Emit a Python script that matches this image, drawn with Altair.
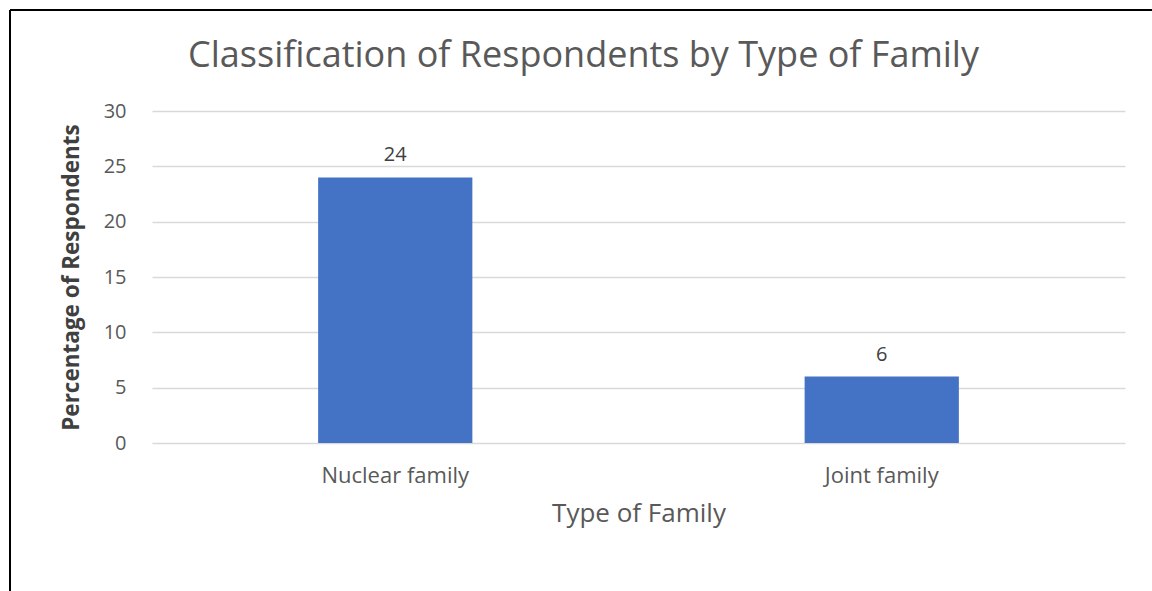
import altair as alt
import pandas as pd

# Survey result: share of respondents by family type
family_types = ["Nuclear family", "Joint family"]
percentages = [24, 6]
y_ticks = [0, 5, 10, 15, 20, 25, 30]

df = pd.DataFrame({"family": family_types, "pct": percentages})

FONT = "Open Sans"
GREY = "#595959"

base = alt.Chart(df).encode(
    x=alt.X(
        "family:N",
        sort=family_types,
        title="Type of Family",
        scale=alt.Scale(paddingInner=0.683, paddingOuter=0.3415),
        axis=alt.Axis(
            labelAngle=0,
            labelFontSize=22,
            labelColor=GREY,
            labelFont=FONT,
            labelPadding=22,
            ticks=False,
            domain=False,
            titleFontSize=26,
            titleColor=GREY,
            titleFont=FONT,
            titleFontWeight="normal",
            titlePadding=14,
        ),
    )
)

bars = base.mark_bar(color="#4472C4").encode(
    y=alt.Y(
        "pct:Q",
        title="Percentage of Respondents",
        scale=alt.Scale(domain=[0, 30], nice=False),
        axis=alt.Axis(
            values=y_ticks,
            labelFontSize=20,
            labelColor=GREY,
            labelFont=FONT,
            labelPadding=26,
            ticks=False,
            domain=False,
            grid=True,
            gridColor="#d9d9d9",
            gridWidth=1.5,
            titleFontSize=22.5,
            titleColor="#404040",
            titleFont=FONT,
            titleFontWeight="bold",
            titlePadding=20,
        ),
    )
)

labels = base.mark_text(
    baseline="bottom", dy=-12, fontSize=20, color="#404040", font=FONT
).encode(y="pct:Q", text="pct:Q")

# Outer frame of the chart (left and top edges)
frame_top = alt.Chart(df).mark_rule(color="black", strokeWidth=2, clip=False).encode(
    x=alt.value(-142), x2=alt.value(1100), y=alt.value(-101)
)
frame_left = alt.Chart(df).mark_rule(color="black", strokeWidth=2, clip=False).encode(
    x=alt.value(-142), y=alt.value(-101), y2=alt.value(600)
)

chart = (
    alt.layer(bars, labels, frame_top, frame_left)
    .properties(
        width=973,
        height=332,
        title=alt.TitleParams(
            "Classification of Respondents by Type of Family",
            fontSize=36,
            font=FONT,
            color=GREY,
            fontWeight="normal",
            anchor="middle",
            frame="group",
            offset=-66,
            dx=-55,
        ),
        autosize=alt.AutoSizeParams(type="none"),
        padding={"left": 152, "top": 111, "right": 27, "bottom": 148},
        background="white",
    )
    .configure_view(strokeWidth=0)
)

chart.save("out.html", embed_options={"renderer": "svg", "actions": False})
